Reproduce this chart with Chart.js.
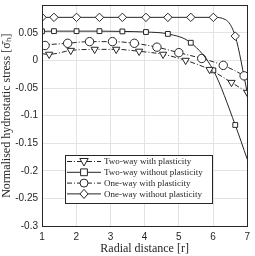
<!DOCTYPE html>
<html>
<head>
<meta charset="utf-8">
<script src="https://cdn.jsdelivr.net/npm/chart.js@4.4.1/dist/chart.umd.min.js"></script>
<style>
  html, body { margin: 0; padding: 0; background: #fff; }
  #box { width: 255px; height: 256px; }
</style>
</head>
<body>
<div id="box"><canvas id="stress-chart"></canvas></div>
<script>
  // values
  const xTicks = [1, 2, 3, 4, 5, 6, 7];

  const twoWayPlastR = [1, 1.21, 1.84, 2.54, 3.17, 3.84, 4.54, 5.2, 5.9, 6.54, 7];
  const twoWayPlastS = [0.012, 0.011, 0.018, 0.020, 0.020, 0.0165, 0.011, 0.0, -0.0165, -0.040, -0.058];
  const twoWayPlastMarked = [0, 1, 1, 1, 1, 1, 1, 1, 1, 1, 1];

  const twoWayElR = [1, 1.35, 2.01, 2.68, 3.35, 4.04, 4.68, 5.35, 6.01, 6.65, 7];
  const twoWayElS = [0.0527, 0.053, 0.053, 0.053, 0.0525, 0.0514, 0.048, 0.032, -0.018, -0.117, -0.179];
  const twoWayElMarked = [1, 1, 1, 1, 1, 1, 1, 1, 1, 1, 0];

  const oneWayPlastR = [1, 1.09, 1.75, 2.39, 3.06, 3.7, 4.36, 5.0, 5.67, 6.3, 6.91, 7];
  const oneWayPlastS = [0.025, 0.027, 0.031, 0.034, 0.034, 0.031, 0.024, 0.014, 0.0035, -0.009, -0.028, -0.032];
  const oneWayPlastMarked = [0, 1, 1, 1, 1, 1, 1, 1, 1, 1, 1, 0];

  const oneWayElR = [1, 1.35, 2.01, 2.68, 3.35, 4.04, 4.68, 5.35, 6.01, 6.36, 6.65, 7];
  const oneWayElS = [0.078, 0.078, 0.078, 0.078, 0.078, 0.078, 0.078, 0.078, 0.078, 0.074, 0.044, -0.058];
  const oneWayElMarked = [1, 1, 1, 1, 1, 1, 1, 1, 1, 0, 1, 0];

  const labels = ['Two-way with plasticity', 'Two-way without plasticity',
                  'One-way with plasticity', 'One-way without plasticity'];

  const ink = '#262626';
  const dashDot = [5, 2, 1, 2];

  function pairs(xs, ys) {
    return xs.map((x, i) => ({ x: x, y: ys[i] }));
  }

  function series(label, xs, ys, marked, style, rot, dash) {
    return {
      label: label,
      data: pairs(xs, ys),
      borderColor: ink,
      borderWidth: 1,
      borderDash: dash,
      cubicInterpolationMode: 'monotone',
      pointStyle: style,
      rotation: rot,
      pointRadius: ctx => marked[ctx.dataIndex] ? (style === 'rect' ? 3.4 : 4.2) : 0,
      pointBorderColor: ink,
      pointBackgroundColor: '#fff',
      pointBorderWidth: 1
    };
  }

  // draw one legend marker by hand
  function marker(ctx, style, x, y) {
    ctx.beginPath();
    if (style === 'triangle') {
      ctx.moveTo(x - 4.2, y - 3);
      ctx.lineTo(x + 4.2, y - 3);
      ctx.lineTo(x, y + 4.5);
      ctx.closePath();
    } else if (style === 'rect') {
      ctx.rect(x - 3.4, y - 3.4, 6.8, 6.8);
    } else if (style === 'circle') {
      ctx.arc(x, y, 4, 0, Math.PI * 2);
    } else {
      ctx.moveTo(x, y - 4.6);
      ctx.lineTo(x + 4, y);
      ctx.lineTo(x, y + 4.6);
      ctx.lineTo(x - 4, y);
      ctx.closePath();
    }
    ctx.fillStyle = '#fff';
    ctx.fill();
    ctx.stroke();
  }

  const frameAndLegend = {
    id: 'frameAndLegend',
    afterDraw(chart) {
      const ctx = chart.ctx;
      const a = chart.chartArea;
      ctx.save();
      ctx.strokeStyle = ink;
      ctx.lineWidth = 1;
      ctx.strokeRect(Math.round(a.left) + 0.5, Math.round(a.top) + 0.5,
                     Math.round(a.right - a.left), Math.round(a.bottom - a.top));

      // legend box
      const bx = 65.5, by = 155.5, bw = 147, bh = 48;
      ctx.fillStyle = '#fff';
      ctx.fillRect(bx, by, bw, bh);
      ctx.strokeRect(bx, by, bw, bh);
      ctx.font = '9px "Liberation Serif", serif';
      ctx.textBaseline = 'middle';
      chart.data.datasets.forEach((ds, i) => {
        const y = 161.5 + i * 10.8;
        ctx.strokeStyle = ink;
        ctx.setLineDash(ds.borderDash);
        ctx.beginPath();
        ctx.moveTo(67, y);
        ctx.lineTo(101, y);
        ctx.stroke();
        ctx.setLineDash([]);
        marker(ctx, ds.pointStyle, 84, y);
        ctx.fillStyle = ink;
        ctx.fillText(ds.label, 104, y + 0.5);
      });
      ctx.restore();
    }
  };

  document.addEventListener('DOMContentLoaded', function () {
    const ctx = document.getElementById('stress-chart').getContext('2d');
    new Chart(ctx, {
      type: 'line',
      data: {
        datasets: [
          series(labels[0], twoWayPlastR, twoWayPlastS, twoWayPlastMarked, 'triangle', 180, dashDot),
          series(labels[1], twoWayElR, twoWayElS, twoWayElMarked, 'rect', 0, []),
          series(labels[2], oneWayPlastR, oneWayPlastS, oneWayPlastMarked, 'circle', 0, dashDot),
          series(labels[3], oneWayElR, oneWayElS, oneWayElMarked, 'rectRot', 0, [])
        ]
      },
      options: {
        responsive: true,
        maintainAspectRatio: false,
        animation: false,
        layout: { padding: { left: 0, right: 6, top: 1, bottom: 0 } },
        plugins: {
          legend: { display: false },
          tooltip: { enabled: false }
        },
        scales: {
          x: {
            type: 'linear',
            min: 1,
            max: 7,
            afterBuildTicks: scale => { scale.ticks = xTicks.map(v => ({ value: v })); },
            afterFit: scale => { scale.height = 30; },
            grid: { color: '#e3e3e3', drawTicks: false },
            border: { display: false },
            ticks: {
              color: ink,
              padding: 5,
              maxRotation: 0,
              font: { family: '"Liberation Sans", Arial, sans-serif', size: 10 }
            },
            title: {
              display: true,
              text: 'Radial distance [r]',
              color: ink,
              padding: { top: 0, bottom: 0 },
              font: { family: '"Liberation Serif", serif', size: 12 }
            }
          },
          y: {
            min: -0.3,
            max: 0.1,
            afterFit: scale => {
              scale.width = 42;
              scale.paddingTop = 0;
              scale.paddingBottom = 0;
            },
            grid: { color: '#e3e3e3', drawTicks: false },
            border: { display: false },
            ticks: {
              stepSize: 0.05,
              color: ink,
              padding: 4,
              font: { family: '"Liberation Sans", Arial, sans-serif', size: 10 },
              callback: v => v > 0.09 ? '' : String(Number(v.toFixed(2)))
            },
            title: {
              display: true,
              text: 'Normalised hydrostatic stress [σ̄ₕ]',
              color: ink,
              padding: { top: 0, bottom: 2 },
              font: { family: '"Liberation Serif", serif', size: 12 }
            }
          }
        }
      },
      plugins: [frameAndLegend]
    });
  });
</script>
</body>
</html>
